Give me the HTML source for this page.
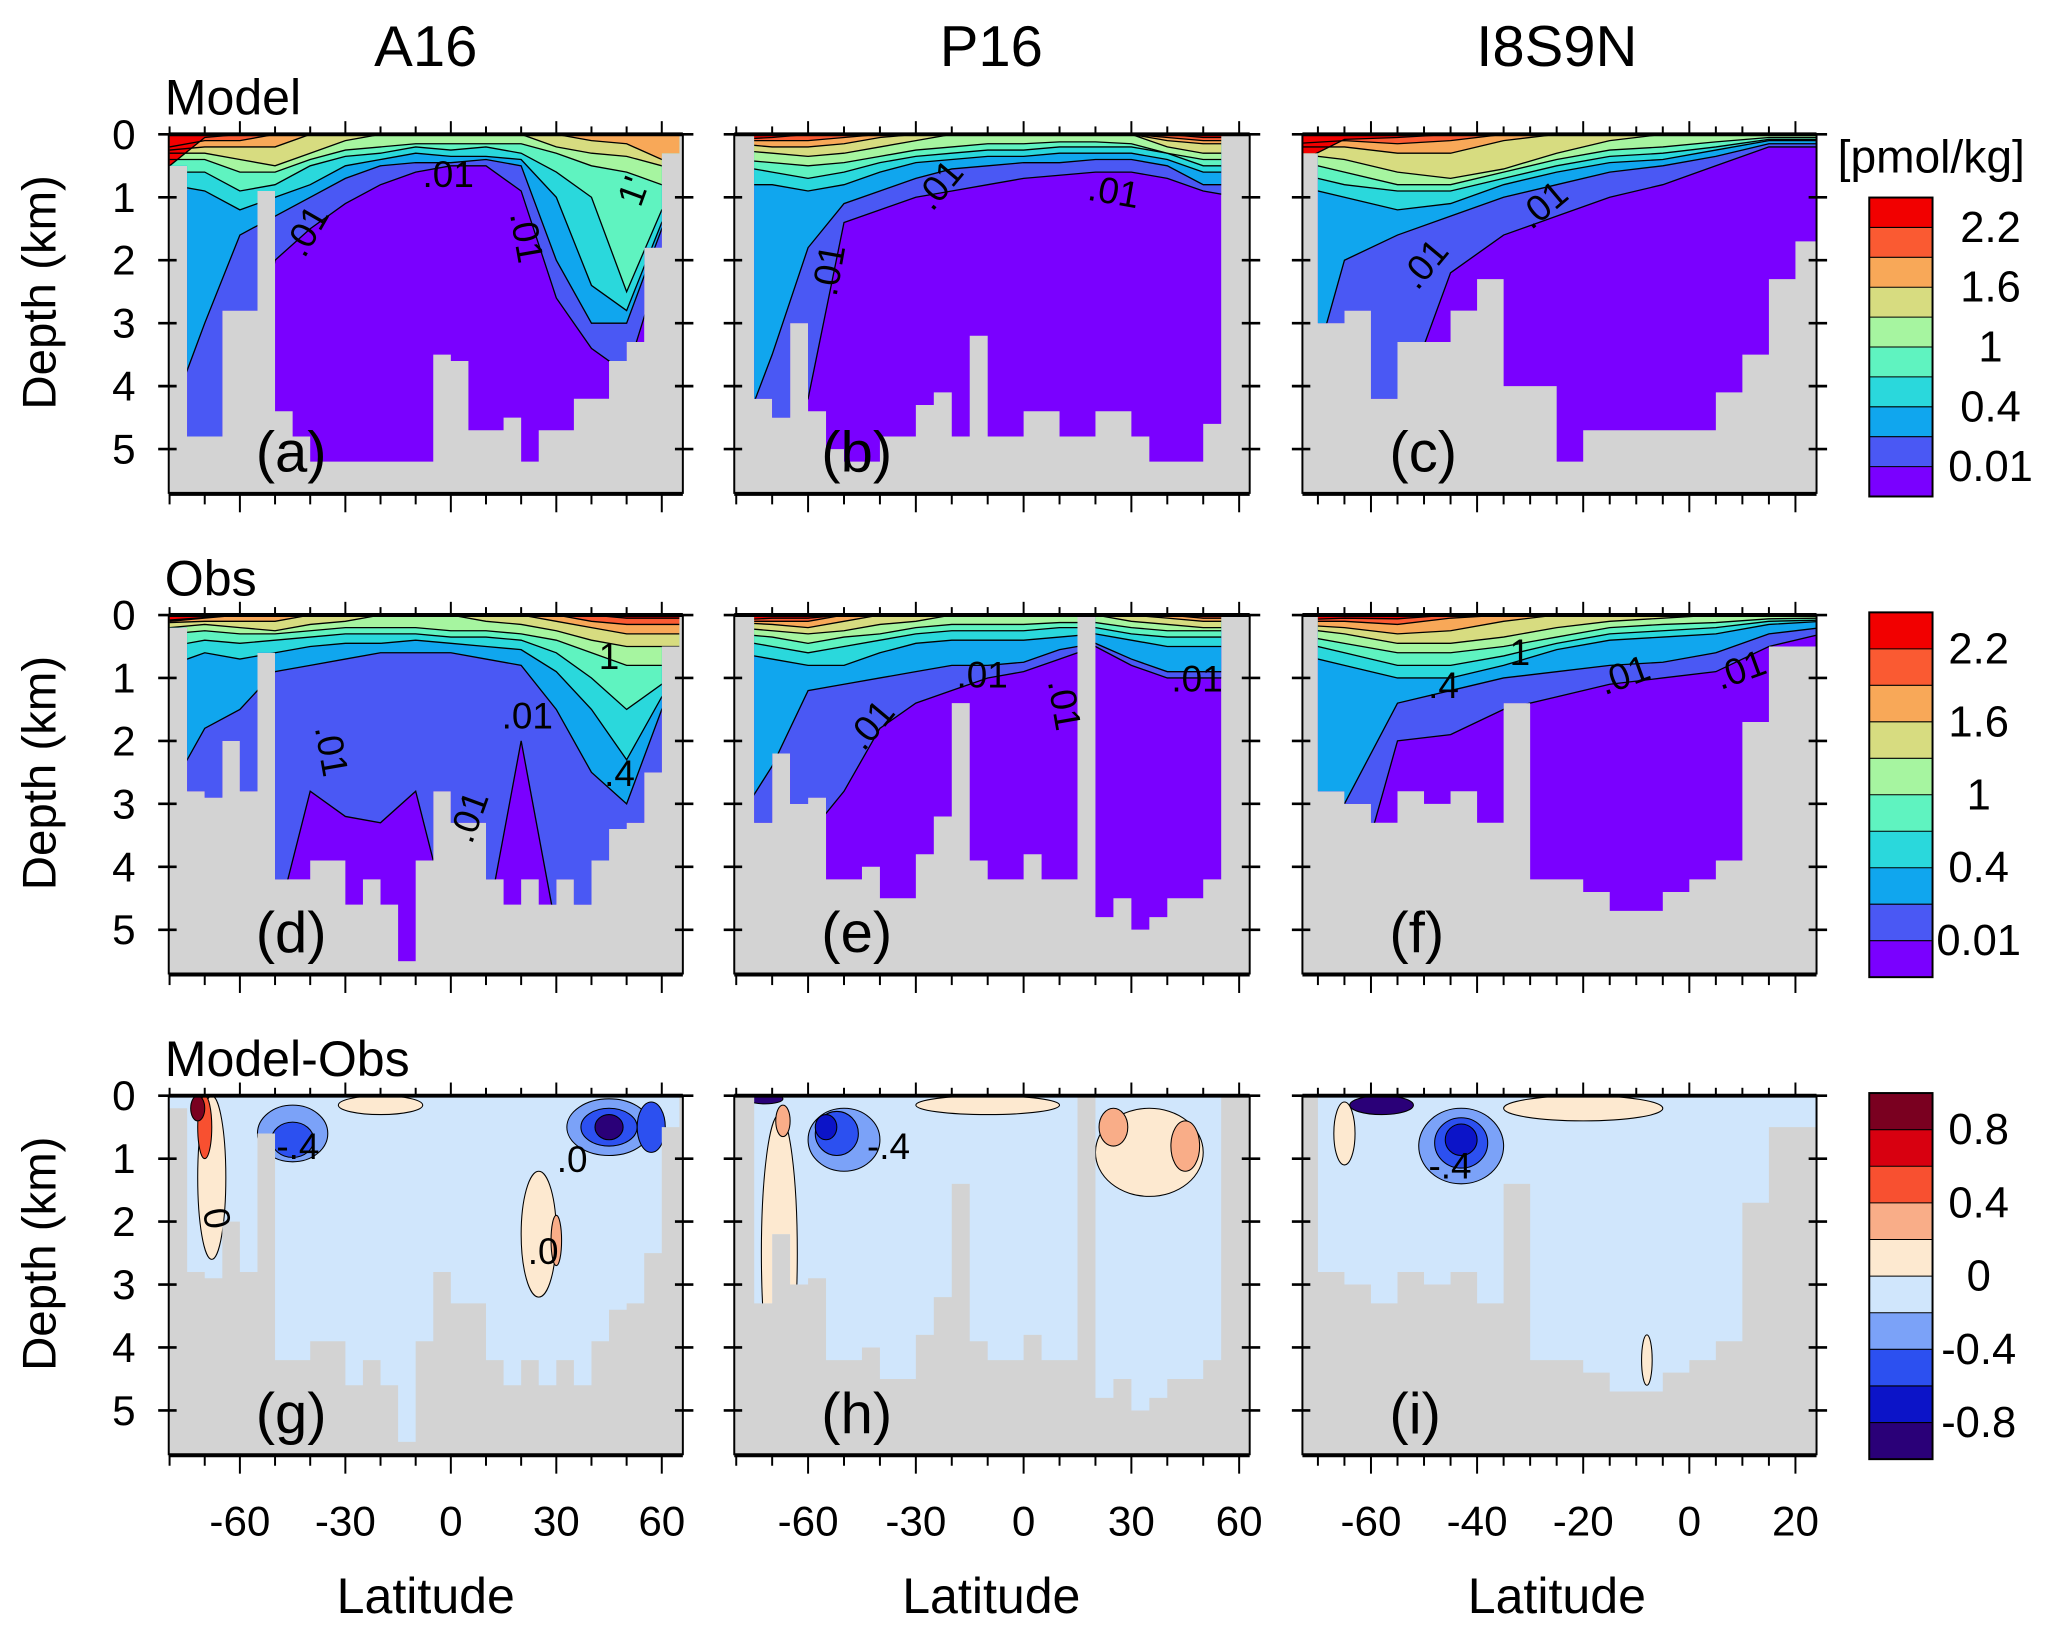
<!DOCTYPE html>
<html><head><meta charset="utf-8"><style>
html,body{margin:0;padding:0;background:#fff;}
svg{display:block;font-family:"Liberation Sans",Arial,sans-serif;}
</style></head><body>
<svg id="fig" width="2067" height="1633" viewBox="0 0 1568 1240" preserveAspectRatio="none" xmlns="http://www.w3.org/2000/svg">
<rect x="0" y="0" width="1568" height="1240" fill="#fff"/>
</svg>
<script>
// ---------- data ----------
const G12 = [-80,-70,-60,-50,-40,-30,-20,-10,0,10,20,30,40,50,60,65];
const G3 = [-75,-65,-55,-45,-35,-25,-15,-5,5,15,25];
const bathyA = [0.5,4.8,4.8,2.8,2.8,0.9,4.4,4.8,5.2,5.2,5.2,5.2,5.2,5.2,5.2,3.5,3.6,4.7,4.7,4.5,5.2,4.7,4.7,4.2,4.2,3.6,3.3,1.8,0.3];
const bathyB = [0,4.2,4.5,3.0,4.4,5.0,5.2,5.2,4.8,4.8,4.3,4.1,4.8,3.2,4.8,4.8,4.4,4.4,4.8,4.8,4.4,4.4,4.8,5.2,5.2,5.2,4.6,0,0];
const bathyC = [0.3,3.0,2.8,4.2,3.3,3.3,2.8,2.3,4.0,4.0,5.2,4.7,4.7,4.7,4.7,4.7,4.1,3.5,2.3,1.7];
const bathyD = [0.2,2.8,2.9,2.0,2.8,0.6,4.2,4.2,3.9,3.9,4.6,4.2,4.6,5.5,3.9,2.8,3.3,3.3,4.2,4.6,4.2,4.6,4.2,4.6,3.9,3.4,3.3,2.5,0.5];
const bathyE = [0,3.3,2.2,3.0,2.9,4.2,4.2,4.0,4.5,4.5,3.8,3.2,1.4,3.9,4.2,4.2,3.8,4.2,4.2,0,4.8,4.5,5.0,4.8,4.5,4.5,4.2,0,0];
const bathyF = [0,2.8,3.0,3.3,2.8,3.0,2.8,3.3,1.4,4.2,4.2,4.4,4.7,4.7,4.4,4.2,3.9,1.7,0.5,0.5];

const layersA = [
 [5,5,5,2.0,1.5,1.1,0.8,0.6,0.5,0.5,0.9,2.6,3.4,3.8,2.0,1],
 [4.5,3,1.6,1.3,1.0,0.7,0.5,0.45,0.45,0.4,0.5,2.0,3.0,3.0,1.5,1],
 [0.8,0.9,1.2,1.0,0.8,0.5,0.4,0.3,0.35,0.35,0.4,1.0,2.4,2.8,1.4,1],
 [0.6,0.6,0.9,0.8,0.5,0.35,0.3,0.2,0.25,0.2,0.3,0.6,1.0,2.5,1.2,1],
 [0.4,0.4,0.6,0.6,0.4,0.25,0.2,0.15,0.15,0.15,0.15,0.3,0.5,0.6,0.8,0.8],
 [0.3,0.3,0.4,0.5,0.3,0.1,0,0,0,0,0,0.2,0.3,0.35,0.5,0.5],
 [0.25,0.2,0.2,0.2,0,0,0,0,0,0,0,0,0.1,0.15,0.4,0.4],
 [0.2,0.1,0.1,0,0,0,0,0,0,0,0,0,0,0,0,0],
 [0.5,0.05,0,0,0,0,0,0,0,0,0,0,0,0,0,0]];
const layersB = [
 [5,5,4.2,1.4,1.2,1.0,0.9,0.8,0.7,0.65,0.6,0.6,0.7,0.9,1,1],
 [5,3.5,1.8,1.1,0.9,0.7,0.55,0.5,0.45,0.45,0.4,0.4,0.5,0.8,0.8,0.8],
 [0.8,0.8,0.9,0.8,0.6,0.45,0.4,0.35,0.35,0.3,0.3,0.3,0.4,0.6,0.6,0.6],
 [0.5,0.6,0.7,0.6,0.45,0.35,0.3,0.25,0.25,0.2,0.2,0.2,0.3,0.5,0.5,0.5],
 [0.4,0.45,0.5,0.45,0.35,0.25,0.2,0.15,0.15,0.12,0.12,0.15,0.3,0.4,0.4,0.4],
 [0.25,0.3,0.35,0.3,0.2,0.1,0,0,0,0,0,0,0.2,0.3,0.3,0.3],
 [0.15,0.2,0.2,0.15,0.05,0,0,0,0,0,0,0,0.1,0.15,0.15,0.15],
 [0.1,0.1,0.1,0.05,0,0,0,0,0,0,0,0,0.05,0.1,0.1,0.1],
 [0.08,0.05,0,0,0,0,0,0,0,0,0,0,0,0.05,0.05,0.05]];
const layersC = [
 [5,5,4.5,2.2,1.6,1.3,1.0,0.8,0.5,0.2,0.2],
 [5,2.0,1.6,1.3,1.0,0.8,0.6,0.5,0.35,0.15,0.15],
 [0.8,1.0,1.2,1.1,0.8,0.6,0.45,0.4,0.25,0.1,0.1],
 [0.6,0.8,0.9,0.9,0.7,0.5,0.35,0.3,0.2,0.08,0.08],
 [0.4,0.6,0.8,0.8,0.6,0.4,0.25,0.2,0.12,0.05,0.05],
 [0.3,0.4,0.6,0.7,0.55,0.3,0.1,0,0,0,0],
 [0.2,0.2,0.3,0.3,0.1,0,0,0,0,0,0],
 [0.15,0.1,0.15,0.1,0,0,0,0,0,0,0],
 [0.5,0.08,0.05,0,0,0,0,0,0,0,0]];
const layersD = [
 [5,5,5,5,2.8,3.2,3.3,2.8,5,5,2.0,5,5,5,5,5],
 [2.8,1.8,1.5,0.9,0.8,0.7,0.6,0.6,0.6,0.7,0.8,1.5,2.5,3.0,1.5,1],
 [0.8,0.6,0.7,0.6,0.5,0.45,0.45,0.4,0.45,0.5,0.55,0.9,1.5,2.3,1.3,1],
 [0.5,0.4,0.45,0.4,0.35,0.3,0.3,0.3,0.35,0.35,0.4,0.6,1.0,1.5,1.1,1],
 [0.3,0.25,0.3,0.3,0.25,0.2,0.2,0.2,0.25,0.25,0.3,0.4,0.6,0.8,0.8,0.8],
 [0.2,0.15,0.2,0.25,0.15,0.1,0,0,0,0.1,0.15,0.25,0.4,0.5,0.5,0.5],
 [0.12,0.1,0.1,0.1,0,0,0,0,0,0,0,0.1,0.2,0.3,0.3,0.3],
 [0.1,0.05,0,0,0,0,0,0,0,0,0,0,0.1,0.15,0.15,0.15],
 [0.08,0.04,0,0,0,0,0,0,0,0,0,0,0,0.05,0.05,0.05]];
const layersE = [
 [5,5,3.5,2.8,1.8,1.4,1.2,1.0,0.9,0.7,0.5,0.8,1.0,1.0,1,1],
 [3.3,2.4,1.2,1.1,1.0,0.9,0.8,0.8,0.75,0.55,0.45,0.7,0.9,0.9,0.9,0.9],
 [0.6,0.7,0.8,0.8,0.6,0.45,0.4,0.4,0.4,0.35,0.3,0.4,0.5,0.5,0.5,0.5],
 [0.4,0.5,0.6,0.5,0.4,0.3,0.25,0.25,0.25,0.2,0.2,0.3,0.35,0.35,0.35,0.35],
 [0.3,0.35,0.45,0.35,0.3,0.2,0.15,0.15,0.15,0.12,0.12,0.2,0.25,0.25,0.25,0.25],
 [0.2,0.25,0.3,0.25,0.15,0.1,0,0,0,0,0,0.1,0.15,0.2,0.2,0.2],
 [0.12,0.15,0.2,0.1,0,0,0,0,0,0,0,0,0.05,0.1,0.1,0.1],
 [0.1,0.1,0.1,0,0,0,0,0,0,0,0,0,0,0.05,0.05,0.05],
 [0.08,0.05,0.05,0,0,0,0,0,0,0,0,0,0,0,0,0]];
const layersF = [
 [5,5,2.0,1.9,1.5,1.3,1.1,1.0,0.9,0.5,0.3],
 [3,3,1.4,1.2,1.0,0.9,0.8,0.75,0.6,0.3,0.2],
 [0.6,0.8,1.0,1.0,0.8,0.55,0.4,0.35,0.3,0.15,0.1],
 [0.4,0.6,0.8,0.8,0.65,0.45,0.3,0.25,0.2,0.1,0.08],
 [0.3,0.45,0.6,0.6,0.5,0.35,0.2,0.15,0.12,0.06,0.05],
 [0.2,0.3,0.45,0.45,0.35,0.2,0.1,0.05,0,0,0],
 [0.15,0.2,0.3,0.25,0.1,0,0,0,0,0,0],
 [0.1,0.1,0.15,0.05,0,0,0,0,0,0,0],
 [0.08,0.05,0.06,0,0,0,0,0,0,0,0]];
// diff blobs: [lat, depthKm, radiusLatDeg, radiusDepthKm, levelIndex]
const blobsG = [[-68,1.3,4,1.3,4],[-70,0.5,2,0.5,2],[-72,0.2,2,0.2,0],[-45,0.6,10,0.45,6],[-45,0.7,6,0.28,7],[-20,0.15,12,0.15,4],[25,2.2,5,1.0,4],[30,2.3,1.5,0.4,3],[45,0.5,12,0.45,6],[45,0.5,8,0.3,7],[45,0.5,4,0.2,9],[57,0.5,4,0.4,7]];
const blobsH = [[-68,2.5,5,2.2,4],[-67,0.4,2,0.25,3],[-50,0.7,10,0.5,6],[-52,0.6,6,0.35,7],[-55,0.5,3,0.2,8],[-10,0.15,20,0.15,4],[35,0.9,15,0.7,4],[45,0.8,4,0.4,3],[25,0.5,4,0.3,3],[-72,0.05,5,0.08,9]];
const blobsI = [[-58,0.15,6,0.15,9],[-43,0.8,8,0.6,6],[-43,0.75,5,0.4,7],[-43,0.7,3,0.25,8],[-20,0.2,15,0.2,4],[-8,4.2,1,0.4,4],[-65,0.6,2,0.5,4]];

const modelColors = ['#7a00ff','#4a58f4','#10a6ee','#2ad8dc','#5ff3c0','#a6f5a0','#d7dc80','#f8a858','#fa5a32','#f20000'];
const diffColors = ['#7a0020','#d80010','#f85030','#f9ad88','#fde9d0','#d0e6fc','#7ba2f8','#2c50f0','#0c14c8','#2a0078'];
const cbLabels12 = ['2.2','1.6','1','0.4','0.01'];
const cbLabels3 = ['0.8','0.4','0','-0.4','-0.8'];
const latTicks12 = [-60,-30,0,30,60];
const latTicks3 = [-60,-40,-20,0,20];
const depthTicks = [0,1,2,3,4,5];

// ---------- layout ----------
const NS='http://www.w3.org/2000/svg';
const svg=document.getElementById('fig');
const cols=[{x0:128,x1:518,c:342,s:2.667,ticks:latTicks12,minor:10,lo:-80,name:'A16',tc:323},
            {x0:557,x1:948,c:776.5,s:2.725,ticks:latTicks12,minor:10,lo:-80,name:'P16',tc:752},
            {x0:988,x1:1378,c:1281.5,s:4.025,ticks:latTicks3,minor:5,lo:-75,name:'I8S9N',tc:1181}];
const rows=[102,467,832]; const PH=273; const KM=47.8;
function el(tag,attrs,parent){const e=document.createElementNS(NS,tag);for(const k in attrs)e.setAttribute(k,attrs[k]);(parent||svg).appendChild(e);return e;}
function xOf(col,lat){return col.c+col.s*lat;}
function yOf(row,d){return rows[row]+d*KM;}
let cid=0;
function panel(ci,ri,bathy,layers,grid,blobs,label){
  const col=cols[ci];
  const g=el('g',{});
  
  
  const y0=rows[ri];
  el('rect',{x:col.x0,y:y0,width:col.x1-col.x0,height:PH,fill:'#d3d3d3'},g);
  const id='oc'+(cid++);
  const cp=el('clipPath',{id:id},g);
  let d='M'+xOf(col,col.lo)+','+(y0-2);
  bathy.forEach((v,i)=>{const a=col.lo+5*i;const yy=v>0?yOf(ri,v):y0-2;d+=' L'+xOf(col,a)+','+yy+' L'+xOf(col,a+5)+','+yy;});
  d+=' L'+xOf(col,col.lo+5*bathy.length)+','+(y0-2)+'Z';
  el('path',{d:d},cp);
  const cp2=el('clipPath',{id:id+'b'},g);
  el('rect',{x:col.x0,y:y0,width:col.x1-col.x0,height:PH},cp2);
  const outer=el('g',{'clip-path':'url(#'+id+'b)'},g);
  const inner=el('g',{'clip-path':'url(#'+id+')'},outer);
  if(layers){
    el('rect',{x:col.x0,y:y0,width:col.x1-col.x0,height:PH,fill:modelColors[0]},inner);
    layers.forEach((arr,k)=>{
      let pts=[[xOf(col,grid[0]-20),y0-2]];
      pts.push([xOf(col,grid[0]-20),yOf(ri,arr[0])]);
      arr.forEach((v,i)=>pts.push([xOf(col,grid[i]),yOf(ri,v)]));
      pts.push([xOf(col,grid[grid.length-1]+20),yOf(ri,arr[arr.length-1])]);
      pts.push([xOf(col,grid[grid.length-1]+20),y0-2]);
      const p=el('polygon',{points:pts.map(q=>q.join(',')).join(' '),fill:modelColors[k+1]},inner);
      
      
    });
    layers.forEach((arr,k)=>{
      const pts=arr.map((v,i)=>xOf(col,grid[i])+','+yOf(ri,v)).join(' ');
      el('polyline',{points:pts,fill:'none',stroke:'#000','stroke-width':1},inner);
    });
  } else {
    el('rect',{x:col.x0,y:y0,width:col.x1-col.x0,height:PH,fill:diffColors[5]},inner);
    blobs.forEach(b=>{
      const e=el('ellipse',{cx:xOf(col,b[0]),cy:yOf(ri,b[1]),rx:b[2]*col.s,ry:b[3]*KM,fill:diffColors[b[4]],stroke:'#000','stroke-width':0.8},inner);
      
      
    });
  }
  el('line',{x1:col.x0,y1:y0,x2:col.x1,y2:y0,stroke:'#000','stroke-width':3},g);
  el('line',{x1:col.x0,y1:y0,x2:col.x0,y2:y0+PH,stroke:'#000','stroke-width':1.5},g);
  el('line',{x1:col.x1,y1:y0,x2:col.x1,y2:y0+PH,stroke:'#000','stroke-width':1.5},g);
  el('line',{x1:col.x0,y1:y0+PH,x2:col.x1,y2:y0+PH,stroke:'#000','stroke-width':3},g);
  depthTicks.forEach(t=>{const yy=yOf(ri,t);
    el('line',{x1:col.x0-8,y1:yy,x2:col.x0+6,y2:yy,stroke:'#000','stroke-width':2},g);
    el('line',{x1:col.x1-6,y1:yy,x2:col.x1+8,y2:yy,stroke:'#000','stroke-width':2},g);
    if(ci===0){const tx=el('text',{x:94,y:yy+11,'text-anchor':'middle','font-size':32},g);tx.textContent=t;
      }
  });
  for(let lat=Math.ceil((col.x0-col.c)/col.s/col.minor)*col.minor;xOf(col,lat)<=col.x1;lat+=col.minor){
    const major=col.ticks.includes(lat);const xx=xOf(col,lat);
    el('line',{x1:xx,y1:y0-(major?10:6),x2:xx,y2:y0,stroke:'#000','stroke-width':1.5},g);
    el('line',{x1:xx,y1:y0+PH,x2:xx,y2:y0+PH+(major?14:8),stroke:'#000','stroke-width':1.5},g);
    if(major&&ri===2){const tx=el('text',{x:xx,y:1166,'text-anchor':'middle','font-size':32},g);tx.textContent=lat;
      }
  }
  const pl=el('text',{x:col.x0+66,y:y0+256,'font-size':44},g);pl.textContent='('+label+')';
  
}
panel(0,0,bathyA,layersA,G12,null,'a');
panel(1,0,bathyB,layersB,G12,null,'b');
panel(2,0,bathyC,layersC,G3,null,'c');
panel(0,1,bathyD,layersD,G12,null,'d');
panel(1,1,bathyE,layersE,G12,null,'e');
panel(2,1,bathyF,layersF,G3,null,'f');
panel(0,2,bathyD,null,G12,blobsG,'g');
panel(1,2,bathyE,null,G12,blobsH,'h');
panel(2,2,bathyF,null,G3,blobsI,'i');

cols.forEach((c,i)=>{const t=el('text',{x:c.tc,y:50,'text-anchor':'middle','font-size':44});t.textContent=c.name;
  
  const l=el('text',{x:c.tc,y:1225,'text-anchor':'middle','font-size':38});l.textContent='Latitude';
  });
[['Model',87],['Obs',452],['Model-Obs',817]].forEach(r=>{const t=el('text',{x:125,y:r[1],'font-size':38});t.textContent=r[0];
  });
rows.forEach(y=>{const t=el('text',{x:0,y:0,'text-anchor':'middle','font-size':36,transform:'translate(42,'+(y+120)+') rotate(-90)'});t.textContent='Depth (km)';
  });
[[232,185,-60,'.01'],[340,142,0,'.01'],[400,190,80,'.01'],[480,155,-70,"1'"],[712,150,-50,'.01'],[845,155,10,'.01'],[628,215,-80,'.01'],[1080,210,-50,'.01'],[1170,165,-40,'.01'],
 [252,580,80,'.01'],[400,553,0,'.01'],[355,630,-70,'.01'],[462,508,0,'1'],[470,597,0,'.4'],[660,560,-50,'.01'],[745,522,0,'.01'],[808,545,80,'.01'],[908,525,0,'.01'],
 [1095,530,0,'.4'],[1153,505,0,'1'],[1232,522,-20,'.01'],[1320,518,-20,'.01'],[226,880,0,'-.4'],[434,890,0,'.0'],[165,935,80,'0'],[412,960,0,'.0'],[674,880,0,'-.4'],[1100,895,0,'-.4']]
.forEach(c=>{const t=el('text',{x:c[0],y:c[1],'font-size':28,'text-anchor':'middle',transform:'rotate('+c[2]+' '+c[0]+' '+(c[1]-10)+')'});t.textContent=c[3];
  });
function colorbar(top,bot,colors,labels,lx,name){
  const g=el('g',{});
  const h=(bot-top)/colors.length;
  colors.forEach((c,i)=>el('rect',{x:1418,y:top+i*h,width:48,height:h,fill:c},g));
  el('rect',{x:1418,y:top,width:48,height:bot-top,fill:'none',stroke:'#000','stroke-width':1.5},g);
  for(let i=1;i<colors.length;i++)el('line',{x1:1418,y1:top+i*h,x2:1466,y2:top+i*h,stroke:'#000','stroke-width':0.8},g);
  labels.forEach((l,i)=>{const t=el('text',{x:lx,y:top+(2*i+1)*h+11,'text-anchor':'middle','font-size':33},g);t.textContent=l;
    });
}
colorbar(150,377,modelColors.slice().reverse(),cbLabels12,1510,'colorbar-model');
colorbar(465,742,modelColors.slice().reverse(),cbLabels12,1501,'colorbar-obs');
colorbar(830,1108,diffColors,cbLabels3,1501,'colorbar-diff');
const u=el('text',{x:1465,y:131,'text-anchor':'middle','font-size':35});u.textContent='[pmol/kg]';

</script>
</body></html>
